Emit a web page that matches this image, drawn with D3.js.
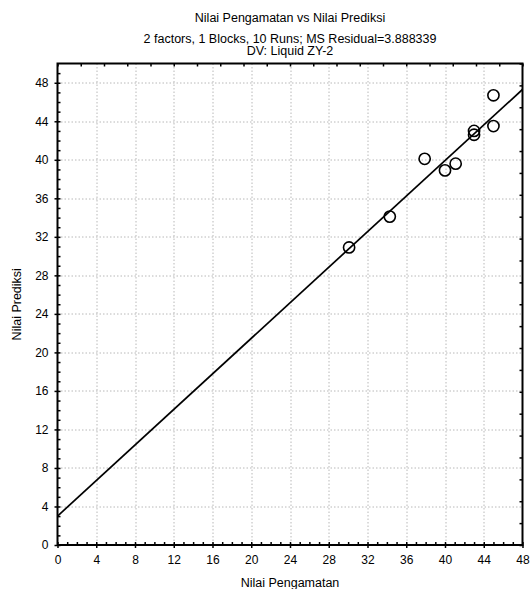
<!DOCTYPE html>
<html>
<head>
<meta charset="utf-8">
<script src="https://cdn.jsdelivr.net/npm/d3@7"></script>
<style>
  body { margin: 0; background: #fff; }
  svg text { font-family: "Liberation Sans", Arial, sans-serif; fill: #000; }
</style>
</head>
<body>
<svg id="chart"></svg>
<script>
// observed (Nilai Pengamatan) vs predicted (Nilai Prediksi)
const observed  = [30.1, 34.3, 37.9, 40.0, 41.1, 43.0, 43.0, 45.0, 45.0];
const predicted = [30.9, 34.1, 40.1, 38.9, 39.6, 43.0, 42.6, 46.7, 43.5];
// fitted line end points
const fitX = [0, 48];
const fitY = [3.0, 47.3];
const xTicks = [0, 4, 8, 12, 16, 20, 24, 28, 32, 36, 40, 44, 48];
const yTicks = [0, 4, 8, 12, 16, 20, 24, 28, 32, 36, 40, 44, 48];
const titleLines = ["Nilai Pengamatan vs Nilai Prediksi",
  "2 factors, 1 Blocks, 10 Runs; MS Residual=3.888339",
  "DV: Liquid ZY-2"];

const W = 531, H = 589;
const margin = {top: 63.5, right: 8.5, bottom: 44, left: 57.5};
const width = W - margin.left - margin.right;
const height = H - margin.top - margin.bottom;

const svg = d3.select("#chart").attr("width", W).attr("height", H);
const g = svg.append("g").attr("transform", `translate(${margin.left},${margin.top})`);

const x = d3.scaleLinear().domain([0, 48]).range([0, width]);
const y = d3.scaleLinear().domain([0, 50]).range([height, 0]);

// grid
g.append("g").selectAll("line").data(xTicks.filter(d => d > 0 && d < 48)).join("line")
  .attr("x1", d => Math.round(x(d)) + 0.5).attr("x2", d => Math.round(x(d)) + 0.5)
  .attr("y1", 0).attr("y2", height)
  .attr("stroke", "#b8b8b8").attr("stroke-dasharray", "1.5,2");
g.append("g").selectAll("line").data(yTicks.filter(d => d > 0)).join("line")
  .attr("y1", d => Math.round(y(d)) + 0.5).attr("y2", d => Math.round(y(d)) + 0.5)
  .attr("x1", 0).attr("x2", width)
  .attr("stroke", "#b8b8b8").attr("stroke-dasharray", "1.5,2");

// minor ticks (inside)
const minorX = g.append("g").attr("transform", `translate(0,${height})`)
  .call(d3.axisBottom(x).tickValues(d3.range(0, 49)).tickSize(-3).tickFormat(""));
const minorY = g.append("g")
  .call(d3.axisLeft(y).tickValues(d3.range(0, 50)).tickSize(-3).tickFormat(""));
const topT = g.append("g")
  .call(d3.axisTop(x).tickValues(d3.range(0, 21).map(i => i * 2.4)).tickSize(-3).tickFormat(""));
const rightT = g.append("g").attr("transform", `translate(${width},0)`)
  .call(d3.axisRight(y).tickValues(d3.range(0, 23).map(i => i * 50 / 22)).tickSize(-3).tickFormat(""));
[minorX, minorY, topT, rightT].forEach(a => {
  a.select(".domain").remove();
  a.selectAll("line").attr("stroke", "#000").attr("stroke-width", 1.5);
});

// major axes with labels
const xAxis = g.append("g").attr("transform", `translate(0,${height})`)
  .call(d3.axisBottom(x).tickValues(xTicks).tickSize(3).tickPadding(7));
const yAxis = g.append("g")
  .call(d3.axisLeft(y).tickValues(yTicks).tickSize(3).tickPadding(6));
[xAxis, yAxis].forEach(a => {
  a.select(".domain").remove();
  a.selectAll("line").attr("stroke", "#000").attr("stroke-width", 1.5);
  a.selectAll("text").style("font-size", "12px").style("font-family", "Liberation Sans, Arial, sans-serif");
});

// frame
g.append("rect").attr("width", width).attr("height", height)
  .attr("fill", "none").attr("stroke", "#000").attr("stroke-width", 2);

// fitted line (clipped)
svg.append("clipPath").attr("id", "clip").append("rect")
  .attr("width", width).attr("height", height);
g.append("line").attr("clip-path", "url(#clip)")
  .attr("x1", x(fitX[0])).attr("y1", y(fitY[0]))
  .attr("x2", x(fitX[1])).attr("y2", y(fitY[1]))
  .attr("stroke", "#000").attr("stroke-width", 1.7);

// points
g.append("g").selectAll("circle").data(observed.map((d, i) => [d, predicted[i]])).join("circle")
  .attr("cx", d => x(d[0])).attr("cy", d => y(d[1])).attr("r", 5.6)
  .attr("fill", "none").attr("stroke", "#000").attr("stroke-width", 1.6);

// titles
const cx = margin.left + width / 2;
svg.append("text").attr("x", cx).attr("y", 22).attr("text-anchor", "middle")
  .style("font-size", "12.5px").text(titleLines[0]);
svg.append("text").attr("x", cx).attr("y", 42.5).attr("text-anchor", "middle")
  .style("font-size", "12.5px").text(titleLines[1]);
svg.append("text").attr("x", cx).attr("y", 55).attr("text-anchor", "middle")
  .style("font-size", "12.5px").text(titleLines[2]);

svg.append("text").attr("x", cx).attr("y", 587).attr("text-anchor", "middle")
  .style("font-size", "12.5px").text("Nilai Pengamatan");
svg.append("text").attr("transform", `translate(21,${margin.top + height / 2}) rotate(-90)`)
  .attr("text-anchor", "middle").style("font-size", "12.5px").text("Nilai Prediksi");
</script>
</body>
</html>
